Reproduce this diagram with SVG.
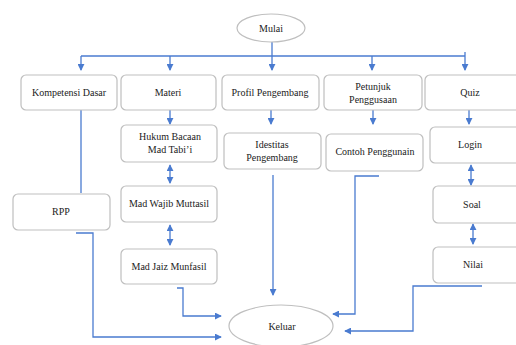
<svg xmlns="http://www.w3.org/2000/svg" width="516" height="345" viewBox="0 0 516 345">
<defs>
<style>
.box{fill:#fff;stroke:#bfbfbf;stroke-width:1.2}
.t{font-family:'Liberation Serif','Times New Roman','DejaVu Serif',serif;font-size:10px;fill:#222;text-anchor:middle}
.c{fill:none;stroke:#4a7bd0;stroke-width:1.3}
</style>
<marker id="ar" viewBox="0 0 8 8" refX="7" refY="4" markerWidth="7" markerHeight="7" markerUnits="userSpaceOnUse" orient="auto-start-reverse">
<path d="M0,0 L8,4 L0,8 z" fill="#4a7bd0"/>
</marker>
</defs>
<rect width="516" height="345" fill="#fff"/>
<g id="connectors">
<path class="c" d="M272,42 V56"/>
<path class="c" d="M81,56 H465"/>
<path class="c" d="M81,56 V70" marker-end="url(#ar)"/>
<path class="c" d="M170,56 V70" marker-end="url(#ar)"/>
<path class="c" d="M272,56 V70" marker-end="url(#ar)"/>
<path class="c" d="M372,56 V70" marker-end="url(#ar)"/>
<path class="c" d="M465,52 V70" marker-end="url(#ar)"/>
<path class="c" d="M170,110 V124" marker-end="url(#ar)"/>
<path class="c" d="M271,110 V124" marker-end="url(#ar)"/>
<path class="c" d="M373,110 V124" marker-end="url(#ar)"/>
<path class="c" d="M469,110 V124" marker-end="url(#ar)"/>
<path class="c" d="M170,165 V183" marker-start="url(#ar)" marker-end="url(#ar)"/>
<path class="c" d="M170,225 V245" marker-start="url(#ar)" marker-end="url(#ar)"/>
<path class="c" d="M471,165 V185" marker-start="url(#ar)" marker-end="url(#ar)"/>
<path class="c" d="M473,224 V244" marker-start="url(#ar)" marker-end="url(#ar)"/>
<path class="c" d="M81,110 V193"/>
<path class="c" d="M76,233 H93 V337 H221" marker-end="url(#ar)"/>
<path class="c" d="M177,288 H183 V316 H221" marker-end="url(#ar)"/>
<path class="c" d="M273,175 V295" marker-end="url(#ar)"/>
<path class="c" d="M379,176 H355 V314 H333" marker-end="url(#ar)"/>
<path class="c" d="M482,286 H413 V331 H345" marker-end="url(#ar)"/>
</g>
<g id="mulai"><ellipse cx="271" cy="28" rx="34" ry="14" fill="#fff" stroke="#bfbfbf" stroke-width="1.2"/><text class="t" x="271" y="31.5">Mulai</text></g>
<g id="kompetensi"><rect class="box" x="21" y="75" width="96" height="35" rx="5"/><text class="t" x="69" y="96">Kompetensi Dasar</text></g>
<g id="materi"><rect class="box" x="121" y="75" width="95" height="35" rx="5"/><text class="t" x="168" y="96">Materi</text></g>
<g id="profil"><rect class="box" x="222" y="75" width="97" height="35" rx="5"/><text class="t" x="270" y="96">Profil Pengembang</text></g>
<g id="petunjuk"><rect class="box" x="324" y="75" width="98" height="35" rx="5"/><text class="t" x="373" y="90">Petunjuk</text><text class="t" x="373" y="103">Penggusaan</text></g>
<g id="quiz"><rect class="box" x="425" y="75" width="96" height="35" rx="5"/><text class="t" x="470" y="96">Quiz</text></g>
<g id="hukum"><rect class="box" x="121" y="125" width="96" height="37" rx="5"/><text class="t" x="170" y="140">Hukum Bacaan</text><text class="t" x="170" y="153">Mad Tabi’i</text></g>
<g id="idestitas"><rect class="box" x="224" y="133" width="97" height="36" rx="5"/><text class="t" x="272" y="148">Idestitas</text><text class="t" x="272" y="161">Pengembang</text></g>
<g id="contoh"><rect class="box" x="326" y="134" width="97" height="37" rx="5"/><text class="t" x="375" y="155">Contoh Penggunain</text></g>
<g id="login"><rect class="box" x="430" y="127" width="92" height="36" rx="5"/><text class="t" x="470" y="148">Login</text></g>
<g id="rpp"><rect class="box" x="13" y="194" width="97" height="36" rx="5"/><text class="t" x="61" y="215">RPP</text></g>
<g id="wajib"><rect class="box" x="121" y="186" width="96" height="36" rx="5"/><text class="t" x="169" y="207">Mad Wajib Muttasil</text></g>
<g id="soal"><rect class="box" x="433" y="186" width="90" height="37" rx="5"/><text class="t" x="472" y="208">Soal</text></g>
<g id="jaiz"><rect class="box" x="121" y="249" width="96" height="35" rx="5"/><text class="t" x="169" y="270">Mad Jaiz Munfasil</text></g>
<g id="nilai"><rect class="box" x="433" y="247" width="90" height="36" rx="5"/><text class="t" x="473" y="268">Nilai</text></g>
<g id="keluar"><ellipse cx="281" cy="326" rx="52" ry="21" fill="#fff" stroke="#bfbfbf" stroke-width="1.2"/><text class="t" x="282" y="330">Keluar</text></g>
</svg>
